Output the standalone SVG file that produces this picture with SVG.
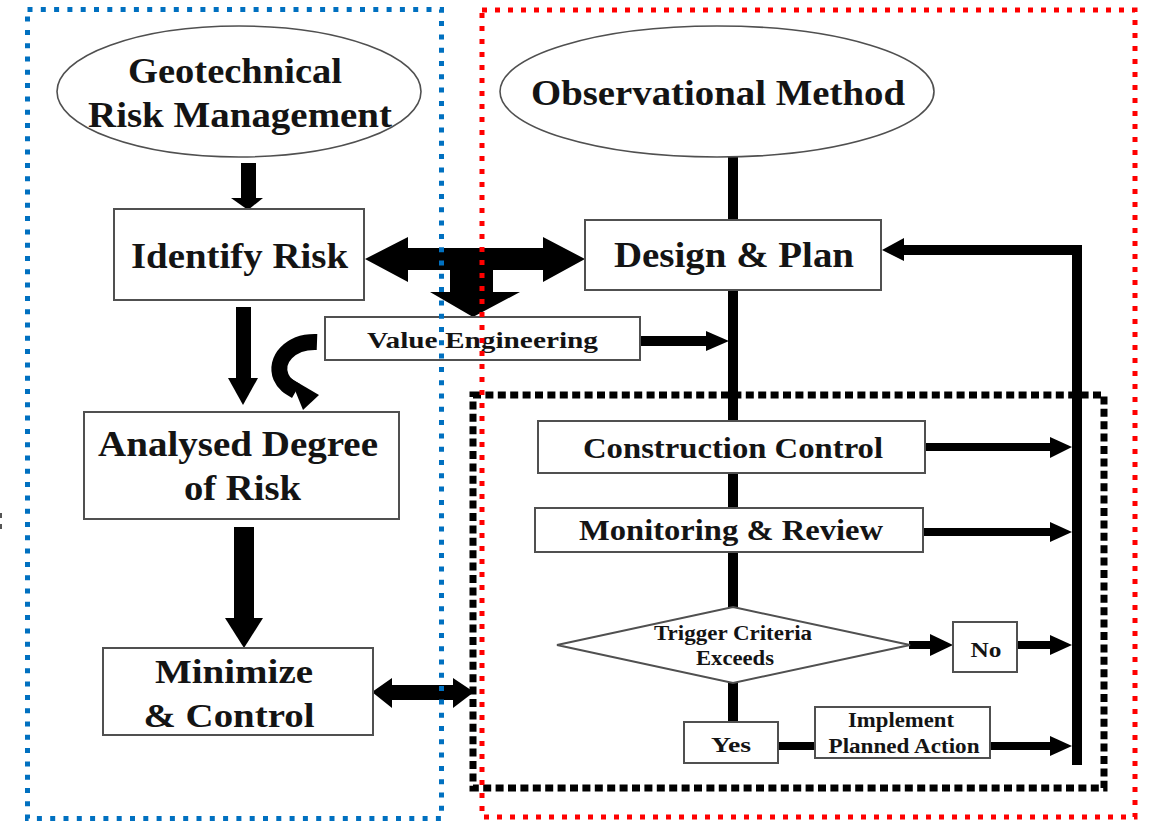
<svg xmlns="http://www.w3.org/2000/svg" width="1150" height="823" viewBox="0 0 1150 823">
  <style>
    .box { fill: #ffffff; stroke: #505050; stroke-width: 2; }
    .oval { fill: #ffffff; stroke: #505050; stroke-width: 1.6; }
    .t { font-family: "Liberation Serif", "Times New Roman", serif; font-weight: bold; fill: #141414; text-anchor: middle; }
    .solid { fill: #000000; }
    .zone-blue { fill: none; stroke: #0070c0; stroke-width: 5; stroke-dasharray: 5 8.3; }
    .zone-red { fill: none; stroke: #ff0000; stroke-width: 5; stroke-dasharray: 5 8; }
    .zone-black { fill: none; stroke: #000000; stroke-width: 7; stroke-dasharray: 8 4.4; }
  </style>

  <rect x="0" y="0" width="1150" height="823" fill="#ffffff"/>

  <!-- inner frame around the construction loop -->
  <g id="loop-frame">
    <rect class="zone-black" x="473" y="395" width="631" height="393"/>
    <rect x="0" y="513" width="2" height="5" fill="#555"/>
    <rect x="0" y="524" width="2" height="5" fill="#555"/>
  </g>

  <!-- connectors -->
  <g id="connectors">
    <!-- ellipse to Identify Risk -->
    <rect class="solid" x="241" y="163" width="15" height="36"/>
    <polygon class="solid" points="231,198 263,198 248,210"/>
    <!-- Identify Risk to Analysed -->
    <rect class="solid" x="236" y="307" width="15" height="72"/>
    <polygon class="solid" points="228,378 258,378 243,405"/>
    <!-- Analysed to Minimize -->
    <rect class="solid" x="234" y="527" width="20" height="92"/>
    <polygon class="solid" points="225,618 263,618 244,648"/>
    <!-- Value Engineering loop back -->
    <path d="M317,342 C290,341 274,360 281,377 C284,384 289,387 296,391" fill="none" stroke="#000" stroke-width="16"/>
    <polygon class="solid" points="290,378 319,395 303,410"/>
    <!-- Identify Risk <-> Design & Plan with drop to Value Engineering -->
    <polygon class="solid" points="365,259 408,237 408,248 543,248 543,237 585,259 543,282 543,270 493,270 493,292 520,292 473,317 430,292 450,292 450,270 408,270 408,282"/>
    <!-- Minimize <-> monitoring frame -->
    <polygon class="solid" points="372,692 392,678 392,685 453,685 453,678 474,692 453,708 453,700 392,700 392,708"/>
    <!-- main spine -->
    <rect class="solid" x="728" y="156" width="10" height="65"/>
    <rect class="solid" x="728" y="289" width="10" height="133"/>
    <rect class="solid" x="728" y="472" width="10" height="37"/>
    <rect class="solid" x="728" y="551" width="10" height="57"/>
    <rect class="solid" x="728" y="682" width="10" height="41"/>
    <!-- Value Engineering to spine -->
    <rect class="solid" x="640" y="336" width="68" height="10"/>
    <polygon class="solid" points="706,331 706,351 729,341"/>
    <!-- feedback return -->
    <rect class="solid" x="1072" y="245" width="10" height="520"/>
    <rect class="solid" x="900" y="245" width="182" height="10"/>
    <polygon class="solid" points="904,238 904,261 882,250"/>
    <!-- branches into the return line -->
    <rect class="solid" x="925" y="443" width="128" height="8"/>
    <polygon class="solid" points="1050,437 1050,458 1072,447"/>
    <rect class="solid" x="923" y="528" width="130" height="8"/>
    <polygon class="solid" points="1050,522 1050,542 1072,532"/>
    <rect class="solid" x="1017" y="641" width="36" height="8"/>
    <polygon class="solid" points="1050,635 1050,655 1072,645"/>
    <rect class="solid" x="990" y="742" width="63" height="8"/>
    <polygon class="solid" points="1050,736 1050,756 1072,746"/>
    <!-- decision to No -->
    <rect class="solid" x="909" y="641" width="24" height="8"/>
    <polygon class="solid" points="930,634 930,656 953,645"/>
    <!-- Yes to Implement -->
    <rect class="solid" x="778" y="742" width="37" height="8"/>
  </g>

  <g id="geo-risk">
    <ellipse class="oval" cx="239" cy="91.5" rx="182" ry="65.5"/>
    <text class="t" x="235" y="83" font-size="35" textLength="214" lengthAdjust="spacingAndGlyphs">Geotechnical</text>
    <text class="t" x="240" y="127" font-size="35" textLength="304" lengthAdjust="spacingAndGlyphs">Risk Management</text>
  </g>

  <g id="identify-risk">
    <rect class="box" x="114" y="209" width="250" height="91"/>
    <text class="t" x="239.5" y="268" font-size="35" textLength="217" lengthAdjust="spacingAndGlyphs">Identify Risk</text>
  </g>

  <g id="analysed-degree">
    <rect class="box" x="84" y="412" width="315" height="107"/>
    <text class="t" x="238" y="456" font-size="35" textLength="280" lengthAdjust="spacingAndGlyphs">Analysed Degree</text>
    <text class="t" x="242.5" y="500" font-size="35" textLength="117" lengthAdjust="spacingAndGlyphs">of Risk</text>
  </g>

  <g id="minimize-control">
    <rect class="box" x="103" y="648" width="270" height="87"/>
    <text class="t" x="234" y="683" font-size="33" textLength="158" lengthAdjust="spacingAndGlyphs">Minimize</text>
    <text class="t" x="229" y="727" font-size="33" textLength="171" lengthAdjust="spacingAndGlyphs">&amp; Control</text>
  </g>

  <g id="value-engineering">
    <rect class="box" x="325" y="317" width="315" height="43"/>
    <text class="t" x="482.5" y="348" font-size="24" textLength="231" lengthAdjust="spacingAndGlyphs">Value Engineering</text>
  </g>

  <g id="observational-method">
    <ellipse class="oval" cx="717" cy="91.5" rx="217" ry="65.5"/>
    <text class="t" x="718" y="105" font-size="35" textLength="374" lengthAdjust="spacingAndGlyphs">Observational Method</text>
  </g>

  <g id="design-plan">
    <rect class="box" x="585" y="220" width="296" height="70"/>
    <text class="t" x="734" y="267" font-size="35" textLength="240" lengthAdjust="spacingAndGlyphs">Design &amp; Plan</text>
  </g>

  <g id="construction-control">
    <rect class="box" x="538" y="421" width="387" height="52"/>
    <text class="t" x="733" y="458" font-size="29" textLength="300" lengthAdjust="spacingAndGlyphs">Construction Control</text>
  </g>

  <g id="monitoring-review">
    <rect class="box" x="535" y="508" width="388" height="44"/>
    <text class="t" x="731" y="540" font-size="29" textLength="304" lengthAdjust="spacingAndGlyphs">Monitoring &amp; Review</text>
  </g>

  <g id="trigger-criteria">
    <polygon class="box" points="733,607 910,645 733,683 557,645"/>
    <text class="t" x="733" y="640" font-size="20" textLength="158" lengthAdjust="spacingAndGlyphs">Trigger Criteria</text>
    <text class="t" x="735" y="665" font-size="20" textLength="78" lengthAdjust="spacingAndGlyphs">Exceeds</text>
  </g>

  <g id="no">
    <rect class="box" x="953" y="622" width="64" height="50"/>
    <text class="t" x="986" y="657" font-size="22" textLength="31" lengthAdjust="spacingAndGlyphs">No</text>
  </g>

  <g id="yes">
    <rect class="box" x="684" y="722" width="94" height="41"/>
    <text class="t" x="731" y="752" font-size="22" textLength="40" lengthAdjust="spacingAndGlyphs">Yes</text>
  </g>

  <g id="implement-action">
    <rect class="box" x="815" y="707" width="175" height="51"/>
    <text class="t" x="901" y="727" font-size="20" textLength="106" lengthAdjust="spacingAndGlyphs">Implement</text>
    <text class="t" x="904" y="753" font-size="20" textLength="151" lengthAdjust="spacingAndGlyphs">Planned Action</text>
  </g>

  <!-- outer frames, drawn last so their dots sit on top -->
  <g id="zones">
    <rect class="zone-blue" x="27.5" y="9.5" width="414" height="809"/>
    <rect class="zone-red" x="482" y="10" width="653" height="807"/>
  </g>
</svg>
